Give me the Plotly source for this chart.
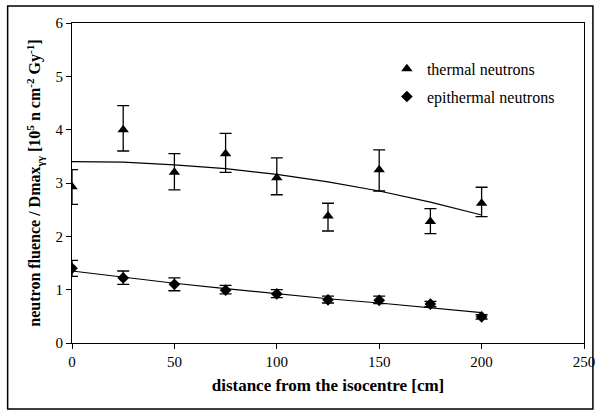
import plotly.graph_objects as go

distance = [0, 25, 50, 75, 100, 125, 150, 175, 200]

thermal = [2.93, 4.00, 3.20, 3.55, 3.10, 2.38, 3.25, 2.28, 2.62]
thermal_err_plus = [0.32, 0.45, 0.35, 0.38, 0.37, 0.24, 0.37, 0.24, 0.30]
thermal_err_minus = [0.33, 0.40, 0.33, 0.35, 0.32, 0.28, 0.40, 0.23, 0.25]
thermal_fit = [3.40, 3.39, 3.34, 3.27, 3.16, 3.02, 2.85, 2.64, 2.40]

epithermal = [1.40, 1.22, 1.10, 0.99, 0.92, 0.81, 0.80, 0.73, 0.49]
epi_err_plus = [0.15, 0.13, 0.12, 0.09, 0.08, 0.07, 0.08, 0.05, 0.04]
epi_err_minus = [0.15, 0.12, 0.12, 0.07, 0.07, 0.06, 0.06, 0.05, 0.04]
epi_fit = [1.35, 1.23, 1.12, 1.02, 0.92, 0.83, 0.75, 0.66, 0.57]

x_ticks = [0, 50, 100, 150, 200, 250]
y_ticks = [0, 1, 2, 3, 4, 5, 6]

FONT = "Liberation Serif, Times New Roman, serif"

fig = go.Figure()

fig.add_trace(go.Scatter(x=distance, y=thermal_fit, mode="lines",
                         line=dict(color="black", width=1.2), showlegend=False, hoverinfo="skip"))
fig.add_trace(go.Scatter(x=distance, y=epi_fit, mode="lines",
                         line=dict(color="black", width=1.2), showlegend=False, hoverinfo="skip"))

fig.add_trace(go.Scatter(
    x=distance, y=thermal, mode="markers", name="thermal neutrons", legendgroup="a",
    marker=dict(symbol="triangle-up", size=10, color="black"),
    error_y=dict(type="data", symmetric=False, array=thermal_err_plus,
                 arrayminus=thermal_err_minus, color="black", thickness=1.3, width=6),
))
fig.add_trace(go.Scatter(
    x=distance, y=epithermal, mode="markers", name="epithermal neutrons", legendgroup="b",
    marker=dict(symbol="diamond", size=9, color="black"),
    error_y=dict(type="data", symmetric=False, array=epi_err_plus,
                 arrayminus=epi_err_minus, color="black", thickness=1.3, width=6),
))

fig.update_layout(
    width=607, height=415,
    margin=dict(l=72, r=18, t=23, b=72),
    paper_bgcolor="white", plot_bgcolor="white",
    font=dict(family=FONT, color="black", size=15),
    legend=dict(x=0.615, y=0.91, xanchor="left", yanchor="top",
                bgcolor="rgba(0,0,0,0)", font=dict(family=FONT, size=16),
                itemwidth=30, tracegroupgap=4, traceorder="grouped"),
    xaxis=dict(range=[0, 250], tickvals=x_ticks, ticks="outside", ticklen=5,
               tickcolor="black", showgrid=False, zeroline=False,
               showline=True, linecolor="black", linewidth=1, mirror=True,
               tickfont=dict(family=FONT, size=15),
               title=dict(text="<b>distance from the isocentre [cm]</b>",
                          font=dict(family=FONT, size=17), standoff=10)),
    yaxis=dict(range=[0, 6], tickvals=y_ticks, ticks="outside", ticklen=5,
               tickcolor="black", showgrid=False, zeroline=False,
               showline=True, linecolor="black", linewidth=1, mirror=True,
               tickfont=dict(family=FONT, size=15),
               title=dict(text="<b>neutron fluence / Dmax<sub>γγ</sub> [10<sup>5</sup> n cm<sup>-2</sup> Gy<sup>-1</sup>]</b>",
                          font=dict(family=FONT, size=16), standoff=10)),
    shapes=[dict(type="rect", xref="paper", yref="paper",
                 x0=-0.1257, x1=1.0174, y0=-0.206, y1=1.053,
                 line=dict(color="black", width=1.5))],
)

fig.write_html("out.html", config={"displayModeBar": False},
               post_script="document.body.style.margin='0';")
